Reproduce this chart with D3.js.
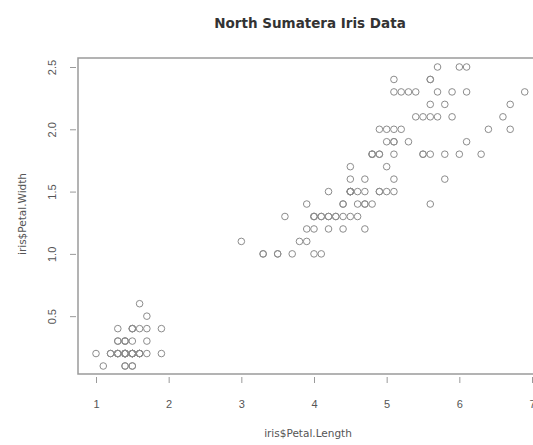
<!DOCTYPE html>
<html>
<head>
<meta charset="utf-8">
<script src="https://cdn.jsdelivr.net/npm/d3@7"></script>
<style>
  body { margin: 0; background: #fff; }
  svg { display: block; font-family: "DejaVu Sans", "Liberation Sans", Arial, sans-serif; }
</style>
</head>
<body>
<svg width="533" height="445"></svg>
<script>
// iris petal length / width
var petalLength = [
  1.4,1.4,1.3,1.5,1.4,1.7,1.4,1.5,1.4,1.5,1.5,1.6,1.4,1.1,1.2,1.5,1.3,1.4,1.7,1.5,
  1.7,1.5,1.0,1.7,1.9,1.6,1.6,1.5,1.4,1.6,1.6,1.5,1.5,1.4,1.5,1.2,1.3,1.4,1.3,1.5,
  1.3,1.3,1.3,1.6,1.9,1.4,1.6,1.4,1.5,1.4,
  4.7,4.5,4.9,4.0,4.6,4.5,4.7,3.3,4.6,3.9,3.5,4.2,4.0,4.7,3.6,4.4,4.5,4.1,4.5,3.9,
  4.8,4.0,4.9,4.7,4.3,4.4,4.8,5.0,4.5,3.5,3.8,3.7,3.9,5.1,4.5,4.5,4.7,4.4,4.1,4.0,
  4.4,4.6,4.0,3.3,4.2,4.2,4.2,4.3,3.0,4.1,
  6.0,5.1,5.9,5.6,5.8,6.6,4.5,6.3,5.8,6.1,5.1,5.3,5.5,5.0,5.1,5.3,5.5,6.7,6.9,5.0,
  5.7,4.9,6.7,4.9,5.7,6.0,4.8,4.9,5.6,5.8,6.1,6.4,5.6,5.1,5.6,6.1,5.6,5.5,4.8,5.4,
  5.6,5.1,5.1,5.9,5.7,5.2,5.0,5.2,5.4,5.1
];
var petalWidth = [
  0.2,0.2,0.2,0.2,0.2,0.4,0.3,0.2,0.2,0.1,0.2,0.2,0.1,0.1,0.2,0.4,0.4,0.3,0.3,0.3,
  0.2,0.4,0.2,0.5,0.2,0.2,0.4,0.2,0.2,0.2,0.2,0.4,0.1,0.2,0.2,0.2,0.2,0.1,0.2,0.2,
  0.3,0.3,0.2,0.6,0.4,0.3,0.2,0.2,0.2,0.2,
  1.4,1.5,1.5,1.3,1.5,1.3,1.6,1.0,1.3,1.4,1.0,1.5,1.0,1.4,1.3,1.4,1.5,1.0,1.5,1.1,
  1.8,1.3,1.5,1.2,1.3,1.4,1.4,1.7,1.5,1.0,1.1,1.0,1.2,1.6,1.5,1.6,1.5,1.3,1.3,1.3,
  1.2,1.4,1.2,1.0,1.3,1.2,1.3,1.3,1.1,1.3,
  2.5,1.9,2.1,1.8,2.2,2.1,1.7,1.8,1.8,2.5,2.0,1.9,2.1,2.0,2.4,2.3,1.8,2.2,2.3,1.5,
  2.3,2.0,2.0,1.8,2.1,1.8,1.8,1.8,2.1,1.6,1.9,2.0,2.2,1.5,1.4,2.3,2.4,1.8,1.8,2.1,
  2.4,2.3,1.9,2.3,2.5,2.3,1.9,2.0,2.3,1.8
];
var xTicks = [1, 2, 3, 4, 5, 6, 7];
var yTicks = [0.5, 1.0, 1.5, 2.0, 2.5];

var svg = d3.select("svg");

var x = d3.scaleLinear().domain([1, 7]).range([96, 532]);
var y = d3.scaleLinear().domain([0.1, 2.5]).range([366, 67]);

var box = { left: 78, right: 545, top: 58, bottom: 374 };

// plot frame
svg.append("rect")
  .attr("x", box.left).attr("y", box.top)
  .attr("width", box.right - box.left).attr("height", box.bottom - box.top)
  .attr("fill", "none").attr("stroke", "#9a9a9a").attr("stroke-width", 1.5);

// x axis
var xAxis = d3.axisBottom(x).tickValues(xTicks).tickFormat(d3.format("d"))
  .tickSize(6).tickPadding(17);
var gx = svg.append("g").attr("transform", "translate(0," + (box.bottom + 3) + ")").call(xAxis);
gx.select(".domain").remove();
gx.selectAll("line").attr("stroke", "#9a9a9a");
gx.selectAll("text").attr("fill", "#555").style("font-size", "11px");

// y axis, labels turned like base R
var yAxis = d3.axisLeft(y).tickValues(yTicks).tickFormat(d3.format(".1f"))
  .tickSize(6).tickPadding(0);
var gy = svg.append("g").attr("transform", "translate(" + (box.left - 2) + ",0)").call(yAxis);
gy.select(".domain").remove();
gy.selectAll("line").attr("stroke", "#9a9a9a");
gy.selectAll("text")
  .attr("fill", "#555").style("font-size", "11px")
  .attr("x", 0).attr("dy", 0)
  .attr("text-anchor", "middle")
  .attr("transform", "translate(-20,0) rotate(-90)");

// points
svg.append("g").selectAll("circle")
  .data(d3.range(petalLength.length))
  .enter().append("circle")
  .attr("cx", function(i) { return x(petalLength[i]); })
  .attr("cy", function(i) { return y(petalWidth[i]); })
  .attr("r", 3.3)
  .attr("fill", "none")
  .attr("stroke", "#8c8c8c")
  .attr("stroke-width", 1);

// titles
svg.append("text")
  .attr("x", 310).attr("y", 28)
  .attr("text-anchor", "middle")
  .style("font-size", "13.5px").style("font-weight", "bold")
  .attr("fill", "#333")
  .text("North Sumatera Iris Data");

svg.append("text")
  .attr("x", 308).attr("y", 437)
  .attr("text-anchor", "middle")
  .style("font-size", "10.5px").attr("fill", "#555")
  .text("iris$Petal.Length");

svg.append("text")
  .attr("transform", "translate(26,214) rotate(-90)")
  .attr("text-anchor", "middle")
  .style("font-size", "10.5px").attr("fill", "#555")
  .text("iris$Petal.Width");
</script>
</body>
</html>
